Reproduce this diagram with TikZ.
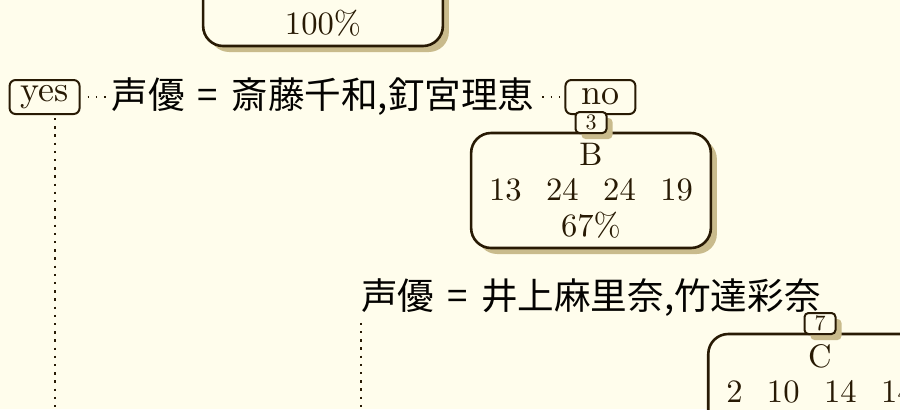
\documentclass[tikz,border=0pt]{standalone}
\usepackage{fontspec}
\setmainfont{lmroman10-regular.otf}
\newfontfamily\cjk{Noto Sans CJK JP}
\usetikzlibrary{calc,positioning,shapes,shadows}
\definecolor{paper}{RGB}{255,253,236}
\definecolor{ink}{RGB}{40,26,4}
\definecolor{shade}{RGB}{201,187,140}
\newcommand{\gap}{\hspace{0.75em}}
\newcommand{\is}{\hspace{0.36em}=\hspace{0.36em}}

\begin{document}
\begin{tikzpicture}[
  x=0.5pt, y=-0.5pt,
  thick,
  tree node/.style={
    rectangle,
    rounded corners=10pt,
    fill=paper,
    line width=1.3pt,
    draw=ink,
    text=ink,
    font=\fontsize{16.3}{17.75}\selectfont,
    inner xsep=9pt, minimum height=57.5pt,
    outer sep=0pt,
    align=center,
    drop shadow={shadow xshift=3pt, shadow yshift=-3pt, fill=shade, opacity=1}
  },
  number box/.style={
    rectangle,
    rounded corners=2pt,
    fill=paper,
    line width=1pt,
    draw=ink,
    text=ink,
    font=\fontsize{11}{12}\selectfont,
    inner sep=0pt, minimum height=10.5pt, minimum width=15.5pt,
    outer sep=0pt,
    drop shadow={shadow xshift=3pt, shadow yshift=-3pt, fill=shade, opacity=1}
  },
  answer box/.style={
    rectangle,
    rounded corners=3pt,
    fill=paper,
    line width=1pt,
    draw=ink,
    text=ink,
    font=\fontsize{18}{19}\selectfont,
    inner sep=0pt, minimum height=17pt, minimum width=35pt,
    outer sep=0pt
  },
  split label/.style={
    text=black!90!ink,
    font=\cjk\fontsize{18.3}{20}\selectfont,
    inner sep=0pt,
    outer sep=0pt
  },
  branch/.style={
    draw=ink,
    line width=1.2pt,
    dash pattern=on 1.2pt off 2.9pt
  },
  branch dots/.style={
    draw=ink,
    line width=0.8pt,
    dash pattern=on 0.8pt off 3.3pt,
    shorten <=4pt, shorten >=2pt
  }
  ]
\useasboundingbox (0,0) rectangle (900,409);
\clip (0,0) rectangle (900,409);
\fill [paper] (0,0) rectangle (900,409);
% Root
\node [tree node, anchor=south] (root) at (323,46) {\phantom{A}\\42\gap 24\gap 29\gap 25\\100\%};
\node [split label] (root split) at ($(root.south)+(0,51)$) {声優\is 斎藤千和,釘宮理恵};
\node [answer box, anchor=east] (yes) at ($(root split.west)+(-32,0)$) {yes};
\node [answer box, anchor=west] (no) at ($(root split.east)+(31,0)$) {no};
\draw [branch dots] (yes) -- (root split);
\draw [branch dots] (root split) -- (no);
% Node 2
\coordinate (node 2) at (55,430);
\draw [branch, shorten <=2pt] (node 2 |- yes.south) -- (node 2);
% Node 3
\node [tree node] (node 3) at (591,190.5) {B\\13\gap 24\gap 24\gap 19\\67\%};
\node [number box, anchor=south] (node 3 number) at (node 3.north) {3};
\node [split label] (node 3 split) at ($(node 3.south)+(0,50)$) {声優\is 井上麻里奈,竹達彩奈};
% Node 6
\coordinate (node 6) at ($(node 3 split.west)+(0,140)$);
\draw [branch, shorten <=3pt] (node 3 split.south west) -- (node 6);
% Node 7
\node [tree node, anchor=north] (node 7) at (820,334) {C\\2\gap 10\gap 14\gap 14\\\phantom{0}};
\node [number box, anchor=south] (node 7 number) at (node 7.north) {7};
\end{tikzpicture}
\end{document}
